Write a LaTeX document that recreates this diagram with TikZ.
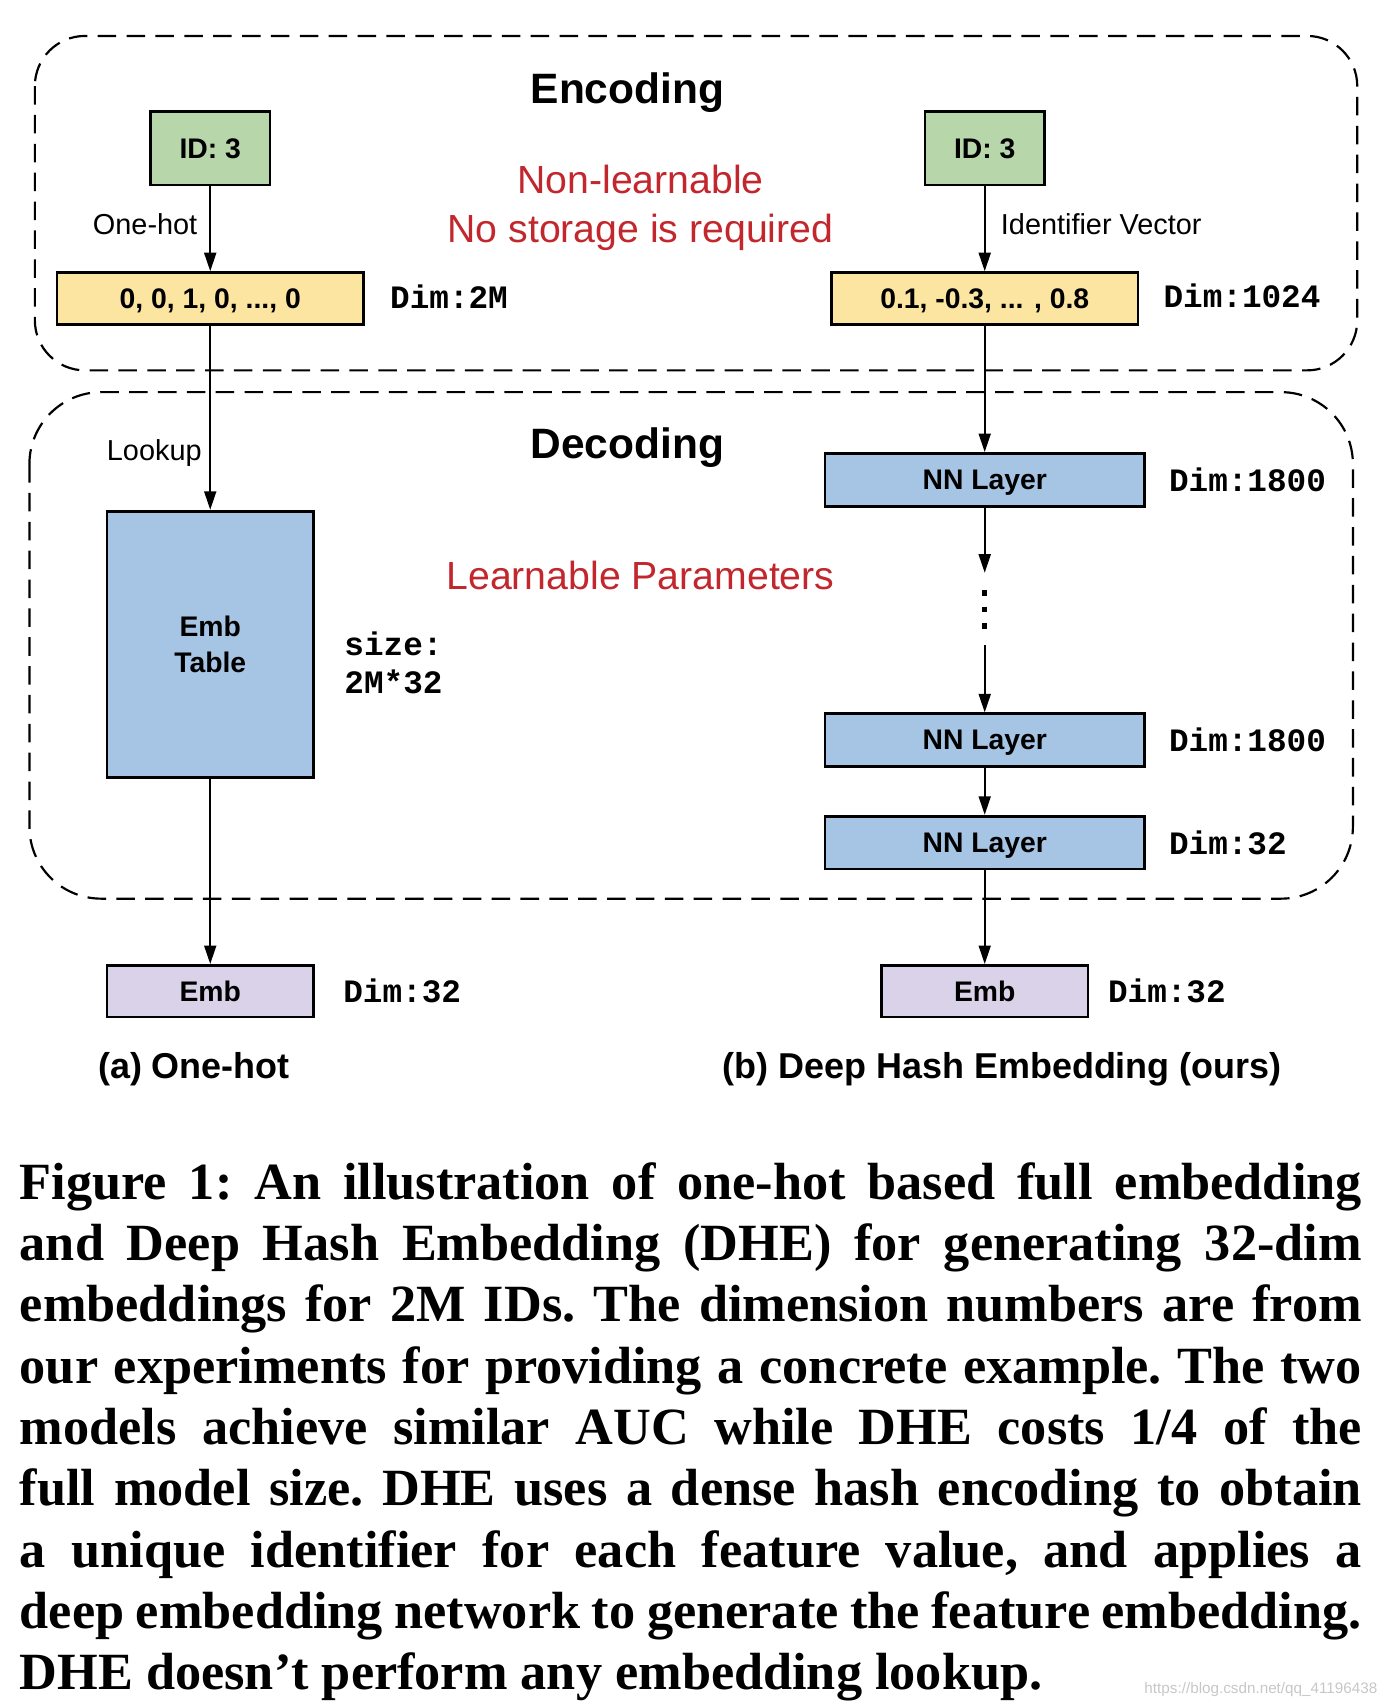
\documentclass[tikz,border=0pt]{standalone}
\usepackage{fontspec}
\setmainfont{Liberation Sans}
\setmonofont{Liberation Mono}
\newfontfamily\captionfont{Liberation Serif}
\usepackage{tikz}
\usetikzlibrary{arrows.meta,positioning}

\definecolor{idgreen}{HTML}{B7D6AA}
\definecolor{codeyellow}{HTML}{FBE5A1}
\definecolor{layerblue}{HTML}{A6C4E4}
\definecolor{embpurple}{HTML}{D9D2E9}
\definecolor{notered}{HTML}{C1272D}

\begin{document}
\begin{tikzpicture}[x=1pt,y=-1pt,on grid,>={Triangle[length=17pt,width=11pt]},
    every node/.style={font=\fontsize{26.5}{32}\selectfont}]
  \tikzstyle{box}=[draw,line width=2.5pt,inner sep=0pt,align=center,text depth=0pt,
    font=\bfseries\fontsize{26}{33}\selectfont]
  \tikzstyle{idbox}=[box,fill=idgreen,minimum width=109.5pt,minimum height=67.5pt]
  \tikzstyle{codebox}=[box,fill=codeyellow,minimum width=281.5pt,minimum height=47.5pt]
  \tikzstyle{tablebox}=[box,fill=layerblue,minimum width=189.5pt,minimum height=244.5pt]
  \tikzstyle{layerbox}=[box,fill=layerblue,minimum width=293.5pt,minimum height=48.5pt]
  \tikzstyle{embbox}=[box,fill=embpurple,minimum width=189.5pt,minimum height=47.5pt]
  \tikzstyle{dimlabel}=[anchor=west,inner sep=0pt,align=left,
    font=\ttfamily\bfseries\fontsize{30}{34}\selectfont]
  \tikzstyle{title}=[font=\bfseries\fontsize{39}{44}\selectfont]
  \tikzstyle{note}=[text=notered,align=center,font=\fontsize{36}{45}\selectfont]
  \tikzstyle{subcap}=[font=\bfseries\fontsize{33}{38}\selectfont]
  \tikzstyle{flow}=[->,line width=1.8pt]
  \tikzstyle{group}=[draw,line width=2pt,dash pattern=on 17pt off 9.5pt]

  \useasboundingbox (0,0) rectangle (1274,1568);

  % encoding / decoding regions
  \draw[group,rounded corners=46pt] (32,33) rectangle (1246,340);
  \draw[group,rounded corners=66pt] (27,360) rectangle (1242,825);
  \node[title] (enc_title) at (576,85)  {Encoding};
  \node[title] (dec_title) at (576,411) {Decoding};
  \node[note]  (enc_note)  at (588,191) {Non-learnable\\No storage is required};
  \node[note]  (dec_note)  at (588,528) {Learnable Parameters};

  % one-hot column
  \node[idbox]    (id_l)   at (193,136)               {ID: 3};
  \node[codebox]  (code_l) [below=138pt of id_l]     {0, 0, 1, 0, ..., 0};
  \node[tablebox] (table)  [below=317.5pt of code_l] {Emb\\Table};
  \node[embbox]   (emb_l)  [below=318.5pt of table]  {Emb};

  % DHE column
  \node[idbox]    (id_r)   at (904,136)              {ID: 3};
  \node[codebox]  (code_r) [below=138pt of id_r]    {0.1, -0.3, ... , 0.8};
  \node[layerbox] (nn_a)   [below=166.5pt of code_r] {NN Layer};
  \node[inner sep=0pt,minimum width=6pt,minimum height=66pt] (skip) [below=118.5pt of nn_a] {};
  \node[layerbox] (nn_b)   [below=239pt of nn_a]     {NN Layer};
  \node[layerbox] (nn_c)   [below=94pt of nn_b]      {NN Layer};
  \node[embbox]   (emb_r)  [below=136.5pt of nn_c]   {Emb};
  \draw[line width=5pt,dash pattern=on 5pt off 10pt]
    ([yshift=17pt]skip.center) -- ([yshift=-18pt]skip.center);

  % sizes
  \node (dim_code_l) [right=23pt of code_l.east,dimlabel,yshift=2pt] {Dim:2M};
  \node (dim_code_r) [right=22pt of code_r.east,dimlabel,yshift=2pt] {Dim:1024};
  \node (dim_nn_a)   [right=21pt of nn_a.east,dimlabel]   {Dim:1800};
  \node (dim_nn_b)   [right=21pt of nn_b.east,dimlabel]   {Dim:1800};
  \node (dim_nn_c)   [right=21pt of nn_c.east,dimlabel]   {Dim:32};
  \node (dim_emb_l)  [right=26pt of emb_l.east,dimlabel]  {Dim:32};
  \node (dim_emb_r)  [right=17pt of emb_r.east,dimlabel]  {Dim:32};
  \node (size_table) [right=27pt of table.east,dimlabel,yshift=-17pt] {size:\\2M*32};

  \path[flow]
    (id_l)   edge node[left,inner sep=11pt,pos=0.45] {One-hot} (code_l)
    (code_l) edge node[left,inner sep=7pt,pos=0.69] {Lookup} (table)
    (table)  edge (emb_l)
    (id_r)   edge node[right,inner sep=14pt,pos=0.45] {Identifier Vector} (code_r)
    (code_r) edge (nn_a)
    (nn_a)   edge (skip)
    (skip)   edge (nn_b)
    (nn_b)   edge (nn_c)
    (nn_c)   edge (emb_r);

  \node[subcap] (sub_a) at (178,982) {(a) One-hot};
  \node[subcap] (sub_b) at (920,982) {(b) Deep Hash Embedding (ours)};

  \node[anchor=north west,inner sep=0pt,text width=1232pt,align=justify,
    font=\captionfont\bfseries\fontsize{48}{56.3}\selectfont] (caption) at (18,1067)
    {\frenchspacing\hyphenpenalty=10000\exhyphenpenalty=10000
     Figure 1: An illustration of one-hot based full embedding\linebreak
     and Deep Hash Embedding (DHE) for generating 32-dim\linebreak
     embeddings for 2M IDs. The dimension numbers are from\linebreak
     our experiments for providing a concrete example. The two\linebreak
     models achieve similar AUC while DHE costs 1/4 of the\linebreak
     full model size. DHE uses a dense hash encoding to obtain\linebreak
     a unique identifier for each feature value, and applies a\linebreak
     deep embedding network to generate the feature embedding.\linebreak
     DHE doesn’t perform any embedding lookup.};
  \node[anchor=east,text=black!22,font=\fontsize{14}{16}\selectfont] (mark) at (1268,1551)
    {https://blog.csdn.net/qq\_41196438};
\end{tikzpicture}
\end{document}
